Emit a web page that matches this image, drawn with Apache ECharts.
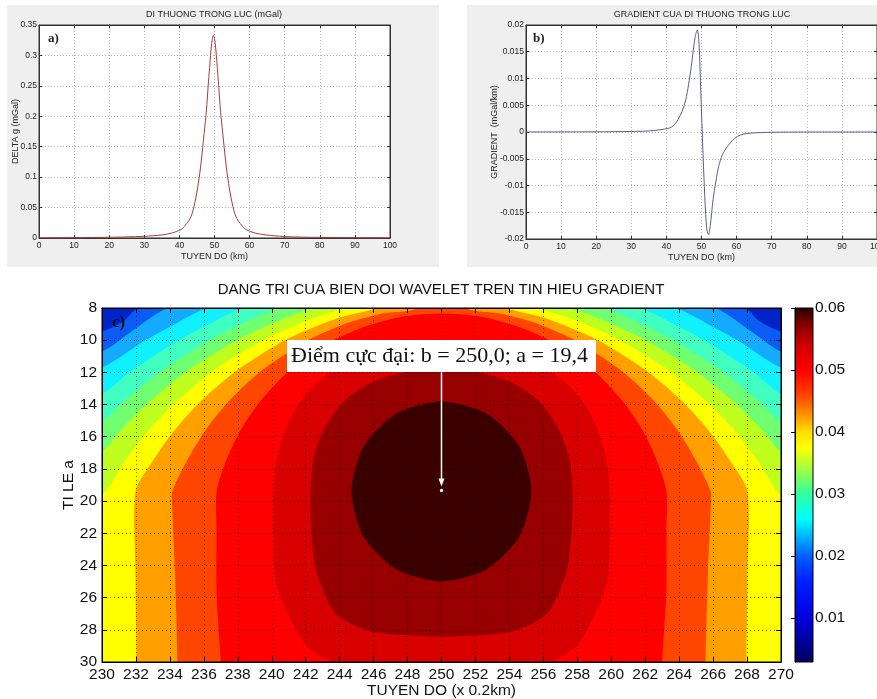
<!DOCTYPE html>
<html>
<head>
<meta charset="utf-8">
<title>Bien doi wavelet - gradient trong luc</title>
<script src="https://cdn.jsdelivr.net/npm/echarts@6.0.0/dist/echarts.min.js"></script>
<style>
  html, body { margin: 0; padding: 0; background: #fff; }
  #chart { width: 877px; height: 699px; }
</style>
</head>
<body>
<div id="chart"></div>
<script>
// a) di thuong trong luc (mGal) theo tuyen do (km)
var anomalyX = [0, 10, 20, 25, 30, 35, 37.7, 40.5, 41.7, 43.3, 44.4, 45.4, 46.2, 47.05, 47.7, 48.2, 48.6, 49.2, 49.7, 50.2,
  50.8, 51.2, 51.7, 52.35, 53.2, 54.0, 55.0, 56.1, 57.7, 59.0, 61.7, 64.7, 69.7, 74.7, 80, 90, 100];
var anomalyY = [0.0003, 0.0005, 0.0012, 0.0018, 0.0028, 0.005, 0.008, 0.014, 0.021, 0.035, 0.058, 0.09, 0.125, 0.172, 0.21, 0.25, 0.28, 0.32, 0.333, 0.32,
  0.28, 0.25, 0.21, 0.172, 0.125, 0.09, 0.058, 0.035, 0.021, 0.014, 0.008, 0.005, 0.0025, 0.0015, 0.001, 0.0005, 0.0003];

// b) gradient (mGal/km)
var gradX = [0, 20, 30, 35, 38, 40.9, 42, 43.3, 44.5, 45.5, 46.3, 47.1, 47.7, 48.2, 48.8, 49.3, 49.8, 50.2, 50.7, 51.2,
  51.6, 52.0, 52.5, 53.3, 54.1, 54.9, 56.0, 57.4, 58.8, 60.3, 62, 64.1, 70, 80, 100];
var gradY = [0, 0.00003, 0.0001, 0.0002, 0.0004, 0.00075, 0.0012, 0.0023, 0.0039, 0.006, 0.0088, 0.0123, 0.0155, 0.0178, 0.0191, 0.0165, 0.0075, 0, -0.0085, -0.0155,
  -0.0185, -0.0192, -0.0175, -0.0126, -0.0092, -0.0064, -0.0042, -0.0027, -0.0016, -0.0008, -0.0004, -0.0002, -0.00005, -0.00001, 0];

// c) duong dang tri [b, a], tu ngoai vao trong
var level0 = [[228, 6], [272, 6], [272, 32], [228, 32]];
var level1 = [[228, 31], [228, 9.5], [230, 9.46], [231.27, 8.83], [232.15, 8.0], [250, 6], [267.85, 8.0], [268.73, 8.83], [270, 9.46], [272, 9.5], [272, 31]];
var level2 = [[228, 31], [228, 10.8], [230, 10.7], [231.74, 9.46], [233.98, 8.0], [250, 6], [266.02, 8.0], [268.26, 9.46], [270, 10.7], [272, 10.8], [272, 31]];
var level3 = [[228, 31], [228, 11.8], [230, 11.69], [232.44, 10.08], [234.04, 9.15], [236.27, 8.0], [250, 6], [263.73, 8.0], [265.96, 9.15], [267.56, 10.08], [270, 11.69], [272, 11.8], [272, 31]];
var level4 = [[228, 31], [228, 13.4], [230, 13.31], [231.68, 11.94], [234.39, 10.08], [236.04, 9.15], [238.39, 8.0], [250, 6], [261.61, 8.0], [263.96, 9.15], [265.61, 10.08], [268.32, 11.94], [270, 13.31], [272, 13.4], [272, 31]];
var level5 = [[228, 31], [228, 15.1], [230, 15.05], [231.27, 13.81], [233.45, 11.94], [236.21, 10.08], [237.92, 9.15], [240.46, 8.0], [250, 6], [259.54, 8.0], [262.08, 9.15], [263.79, 10.08], [266.55, 11.94], [268.73, 13.81], [270, 15.05], [272, 15.1], [272, 31]];
var level6 = [[228, 31], [228, 17.0], [230, 16.91], [231.03, 15.67], [232.8, 13.81], [234.98, 11.94], [237.81, 10.08], [239.63, 9.15], [241.07, 8.52], [242.46, 8.0], [250, 6],
  [257.54, 8.0], [258.93, 8.52], [260.37, 9.15], [262.19, 10.08], [265.02, 11.94], [267.2, 13.81], [268.97, 15.67], [270, 16.91], [272, 17.0], [272, 31]];
var level7 = [[228, 31], [228, 19.7], [230, 19.6], [231.33, 17.54], [232.68, 15.67], [234.39, 13.81], [236.51, 11.94], [239.34, 10.08], [241.22, 9.15], [242.75, 8.52], [244.34, 8.0], [250, 6],
  [255.66, 8.0], [257.25, 8.52], [258.78, 9.15], [260.66, 10.08], [263.49, 11.94], [265.61, 13.81], [267.32, 15.67], [268.67, 17.54], [270, 19.6], [272, 19.7], [272, 31]];
var level8 = [[232.0, 31], [232.03, 30.03], [231.97, 24.37], [231.97, 19.4], [232.97, 17.54], [234.21, 15.67], [235.8, 13.81], [237.86, 11.94], [240.63, 10.08], [242.58, 9.15], [244.25, 8.52], [246.17, 8.0], [250, 6],
  [253.83, 8.0], [255.75, 8.52], [257.42, 9.15], [259.37, 10.08], [262.14, 11.94], [264.2, 13.81], [265.79, 15.67], [267.03, 17.54], [268.03, 19.4], [268.03, 24.37], [267.97, 30.03], [268.0, 31]];
var level9 = [[234.45, 31], [234.45, 30.03], [234.3, 24.37], [234.15, 20.64], [234.15, 19.4], [234.98, 17.54], [236.04, 15.67], [237.45, 13.81], [239.34, 11.94], [241.99, 10.08], [243.23, 9.46], [244.76, 8.83], [246.55, 8.34], [248.59, 8.0], [250, 6],
  [251.41, 8.0], [253.45, 8.34], [255.24, 8.83], [256.77, 9.46], [258.01, 10.08], [260.66, 11.94], [262.55, 13.81], [263.96, 15.67], [265.02, 17.54], [265.85, 19.4], [265.85, 20.64], [265.7, 24.37], [265.55, 30.03], [265.55, 31]];
var level10 = [[237.0, 31], [237.0, 30.03], [236.75, 25.62], [236.75, 21.89], [236.75, 19.4], [237.29, 17.54], [238.12, 15.67], [239.31, 13.81], [240.99, 11.94], [243.52, 10.08], [245.52, 9.15], [247.82, 8.52], [250, 8.34],
  [252.18, 8.52], [254.48, 9.15], [256.48, 10.08], [259.01, 11.94], [260.69, 13.81], [261.88, 15.67], [262.71, 17.54], [263.25, 19.4], [263.25, 21.89], [263.25, 25.62], [263.0, 30.03], [263.0, 31]];
var level11 = [[244.1, 31], [243.52, 30.03], [242.11, 29.1], [240.93, 26.98], [240.22, 24.99], [240.1, 23.13], [240.1, 19.4], [240.3, 17.3], [240.9, 15.3], [241.9, 13.5], [243.3, 12.1], [245.2, 11.0], [247.5, 10.55], [250, 10.39],
  [252.5, 10.55], [254.8, 11.0], [256.7, 12.1], [258.1, 13.5], [259.1, 15.3], [259.7, 17.3], [259.9, 19.4], [259.9, 23.13], [259.78, 24.99], [259.07, 26.98], [257.89, 29.1], [256.48, 30.03], [255.9, 31]];
var level12 = [[250, 11.73], [252.1, 11.98], [254.1, 12.62], [255.7, 13.75], [256.8, 15.3], [257.5, 17.2], [257.72, 19.4], [257.66, 21.9], [257.36, 24.37], [256.24, 26.98], [254.12, 28.1], [250, 28.41],
  [245.88, 28.1], [243.76, 26.98], [242.64, 24.37], [242.34, 21.9], [242.28, 19.4], [242.5, 17.2], [243.2, 15.3], [244.3, 13.75], [245.9, 12.62], [247.9, 11.98]];
var level13 = [[250, 13.81], [252.65, 14.55], [254.59, 16.6], [255.3, 19.4], [254.59, 22.2], [252.65, 24.25], [250, 24.99], [247.35, 24.25], [245.41, 22.2], [244.7, 19.4], [245.41, 16.6], [247.35, 14.55]];

var levels = [level0, level1, level2, level3, level4, level5, level6, level7, level8, level9, level10, level11, level12, level13];

// diem cuc dai va mui ten chi vao no
var peakB = 250.0;
var peakA = 19.4;
var arrowFromA = 12.0;
var arrowToA = 19.1;

// thang mau
var cbTicks = [0.01, 0.02, 0.03, 0.04, 0.05, 0.06];
var cbMin = 0.0029;
var cbMax = 0.06;
var cbStopValues = [0.06, 0.0575, 0.054, 0.05, 0.046, 0.043, 0.040, 0.0375, 0.034, 0.030, 0.026, 0.023, 0.020, 0.016, 0.010, 0.0029];

// mau (style)
var bandColors = ['#0024c8', '#0a5cf5', '#14aaff', '#10f0ff', '#40ffc0', '#70ff70', '#bfff20', '#ffff00',
  '#ffa000', '#ff4600', '#ff0000', '#d80000', '#980000', '#3a0000'];
var cbStopColors = ['#2a0000', '#800000', '#d00000', '#ff0000', '#ff4000', '#ff8c00', '#ffdd00', '#ffff00',
  '#a0ff40', '#30ffa0', '#00ffff', '#00b0ff', '#0060ff', '#0020ff', '#0000e0', '#000060'];

var sans = '"Liberation Sans", Arial, sans-serif';
var serif = '"Liberation Serif", "DejaVu Serif", serif';

function pairs(xs, ys) {
  return xs.map(function (x, i) { return [x, ys[i]]; });
}

function renderLevel(params, api) {
  var k = api.value(2);
  var pts = levels[k].map(function (p) { return api.coord(p); });
  return {
    type: 'polygon',
    shape: { points: pts, smooth: k === 0 ? 0 : 0.25 },
    style: { fill: bandColors[k] }
  };
}

function renderArrow(params, api) {
  var from = api.coord([api.value(0), api.value(1)]);
  var to = api.coord([api.value(0), api.value(2)]);
  var dot = api.coord([api.value(0), api.value(3)]);
  return {
    type: 'group',
    children: [
      { type: 'line', shape: { x1: from[0], y1: from[1], x2: to[0], y2: to[1] - 6 },
        style: { stroke: '#fff', lineWidth: 1.5 } },
      { type: 'polygon', shape: { points: [[to[0] - 3, to[1] - 8], [to[0] + 3, to[1] - 8], [to[0], to[1]]] },
        style: { fill: '#fff' } },
      { type: 'circle', shape: { cx: dot[0], cy: dot[1] - 1, r: 1.6 }, style: { fill: '#fff' } }
    ]
  };
}

function renderColorbar(params, api) {
  var cs = params.coordSys;
  var stops = cbStopValues.map(function (v, i) {
    return { offset: (cbMax - v) / (cbMax - cbMin), color: cbStopColors[i] };
  });
  return {
    type: 'rect',
    shape: { x: cs.x, y: cs.y, width: cs.width, height: cs.height },
    style: { fill: new echarts.graphic.LinearGradient(0, 0, 0, 1, stops) }
  };
}

// truc cho hai do thi nho (a, b)
function smallX(grid, pos) {
  var main = pos === 'bottom';
  return {
    type: 'value', gridIndex: grid, position: pos, min: 0, max: 100, interval: 10,
    axisLine: { show: true, onZero: false, lineStyle: { color: '#333', width: 1 } },
    axisTick: { show: true, inside: true, length: 3, lineStyle: { color: '#333' } },
    axisLabel: { show: main, fontSize: 8.5, color: '#222', margin: 3, fontFamily: sans },
    splitLine: { show: main, lineStyle: { color: '#b5b5b5', type: [1, 2] } },
    name: main ? 'TUYEN DO (km)' : '', nameLocation: 'middle', nameGap: 14, nameMoveOverlap: false,
    nameTextStyle: { fontSize: 9, color: '#222', fontFamily: sans }
  };
}
function smallY(grid, pos, min, max, step, name, gap) {
  var main = pos === 'left';
  return {
    type: 'value', gridIndex: grid, position: pos, min: min, max: max, interval: step,
    axisLine: { show: true, onZero: false, lineStyle: { color: '#333', width: 1 } },
    axisTick: { show: true, inside: true, length: 3, lineStyle: { color: '#333' } },
    axisLabel: { show: main, fontSize: 8.5, color: '#222', margin: 2, fontFamily: sans },
    splitLine: { show: main, lineStyle: { color: '#b5b5b5', type: [1, 2] } },
    name: main ? name : '', nameLocation: 'middle', nameGap: gap, nameMoveOverlap: false,
    nameTextStyle: { fontSize: 9, color: '#222', fontFamily: sans }
  };
}
function bigX(pos) {
  var main = pos === 'bottom';
  return {
    type: 'value', gridIndex: 2, position: pos, min: 230, max: 270, interval: 2, z: 10,
    axisLine: { show: true, onZero: false, lineStyle: { color: '#000', width: 1 } },
    axisTick: { show: true, inside: true, length: 5, lineStyle: { color: '#000' } },
    axisLabel: { show: main, fontSize: 15.5, color: '#111', margin: 5, fontFamily: sans },
    splitLine: { show: main, lineStyle: { color: 'rgba(0,0,0,0.5)', type: [1, 3] } },
    name: main ? 'TUYEN DO (x 0.2km)' : '', nameLocation: 'middle', nameGap: 21, nameMoveOverlap: false,
    nameTextStyle: { fontSize: 15.5, color: '#111', fontFamily: sans }
  };
}
function bigY(pos) {
  var main = pos === 'left';
  return {
    type: 'value', gridIndex: 2, position: pos, min: 8, max: 30, interval: 2, inverse: true, z: 10,
    axisLine: { show: true, onZero: false, lineStyle: { color: '#000', width: 1 } },
    axisTick: { show: true, inside: true, length: 5, lineStyle: { color: '#000' } },
    axisLabel: { show: main, fontSize: 15.5, color: '#111', margin: 5, fontFamily: sans },
    splitLine: { show: main, lineStyle: { color: 'rgba(0,0,0,0.5)', type: [1, 3] } },
    name: main ? 'TI LE a' : '', nameLocation: 'middle', nameGap: 25, nameMoveOverlap: false,
    nameTextStyle: { fontSize: 15.5, color: '#111', fontFamily: sans }
  };
}

var chart = echarts.init(document.getElementById('chart'));

var option = {
  animation: false,
  backgroundColor: '#fff',
  title: [
    { text: 'DI THUONG TRONG LUC (mGal)', left: 214, top: 10, textAlign: 'center', padding: 0,
      textStyle: { fontSize: 9, fontWeight: 'normal', color: '#222', fontFamily: sans } },
    { text: 'GRADIENT CUA DI THUONG TRONG LUC', left: 702, top: 10, textAlign: 'center', padding: 0,
      textStyle: { fontSize: 9, fontWeight: 'normal', color: '#222', fontFamily: sans } },
    { text: 'DANG TRI CUA BIEN DOI WAVELET TREN TIN HIEU GRADIENT', left: 441, top: 282, textAlign: 'center', padding: 0,
      textStyle: { fontSize: 15, fontWeight: 'normal', color: '#111', fontFamily: sans } }
  ],
  graphic: [
    { type: 'rect', z: -10, shape: { x: 7, y: 5, width: 432, height: 262 }, style: { fill: '#efefef' } },
    { type: 'rect', z: -10, shape: { x: 467, y: 5, width: 410, height: 262 }, style: { fill: '#efefef' } },
    { type: 'text', z: 30, x: 48, y: 32, style: { text: 'a)', font: 'bold 13px ' + serif, fill: '#222' } },
    { type: 'text', z: 30, x: 533, y: 32, style: { text: 'b)', font: 'bold 13px ' + serif, fill: '#222' } },
    { type: 'text', z: 30, x: 112, y: 314, style: { text: 'c)', font: 'bold 17px ' + serif, fill: '#111' } },
    { type: 'text', z: 30, x: 287, y: 340,
      style: { text: 'Điểm cực đại: b = 250,0; a = 19,4', font: '22px ' + serif, fill: '#111', lineHeight: 26,
        backgroundColor: '#fff', padding: [3, 8, 3, 4] } }
  ],
  grid: [
    { left: 39, top: 25, width: 351, height: 213, outerBoundsMode: 'none', show: true, backgroundColor: '#fff', borderColor: '#333', borderWidth: 1 },
    { left: 526, top: 25, width: 351, height: 214, outerBoundsMode: 'none', show: true, backgroundColor: '#fff', borderColor: '#333', borderWidth: 1 },
    { left: 102, top: 308, width: 679, height: 354, outerBoundsMode: 'none', show: true, backgroundColor: 'transparent', borderColor: '#000', borderWidth: 1, z: 10 },
    { left: 795, top: 308, width: 18, height: 354, outerBoundsMode: 'none', show: true, backgroundColor: 'transparent', borderColor: '#000', borderWidth: 1, z: 10 }
  ],
  xAxis: [
    smallX(0, 'bottom'), smallX(0, 'top'),
    smallX(1, 'bottom'), smallX(1, 'top'),
    bigX('bottom'), bigX('top'),
    { type: 'value', gridIndex: 3, min: 0, max: 1, show: false }
  ],
  yAxis: [
    smallY(0, 'left', 0, 0.35, 0.05, 'DELTA g (mGal)', 19), smallY(0, 'right', 0, 0.35, 0.05, '', 0),
    smallY(1, 'left', -0.02, 0.02, 0.005, 'GRADIENT  (mGal/km)', 27), smallY(1, 'right', -0.02, 0.02, 0.005, '', 0),
    bigY('left'), bigY('right'),
    { type: 'value', gridIndex: 3, position: 'right', min: cbMin, max: cbMax, z: 10,
      axisLine: { show: true, lineStyle: { color: '#000' } },
      axisTick: { show: true, inside: true, length: 4, customValues: cbTicks, lineStyle: { color: '#000' } },
      axisLabel: { show: true, customValues: cbTicks, fontSize: 15.5, color: '#111', margin: 2, fontFamily: sans },
      splitLine: { show: false } }
  ],
  series: [
    { type: 'line', name: 'anomaly', xAxisIndex: 0, yAxisIndex: 0, data: pairs(anomalyX, anomalyY),
      showSymbol: false, smooth: 0.3, lineStyle: { color: '#a83a3a', width: 1 } },
    { type: 'line', name: 'gradient', xAxisIndex: 2, yAxisIndex: 2, data: pairs(gradX, gradY),
      showSymbol: false, smooth: 0.3, lineStyle: { color: '#5c5c8c', width: 1 } },
    { type: 'custom', name: 'wavelet', xAxisIndex: 4, yAxisIndex: 4, clip: true, silent: true,
      renderItem: renderLevel,
      data: levels.map(function (lv, i) { return [peakB, peakA, i]; }) },
    { type: 'custom', name: 'peak', xAxisIndex: 4, yAxisIndex: 4, z: 20, silent: true,
      renderItem: renderArrow,
      data: [[peakB, arrowFromA, arrowToA, peakA]] },
    { type: 'custom', name: 'colorbar', xAxisIndex: 6, yAxisIndex: 6, silent: true,
      renderItem: renderColorbar, data: [[0.5, 0.03]] }
  ]
};

chart.setOption(option);
</script>
</body>
</html>
